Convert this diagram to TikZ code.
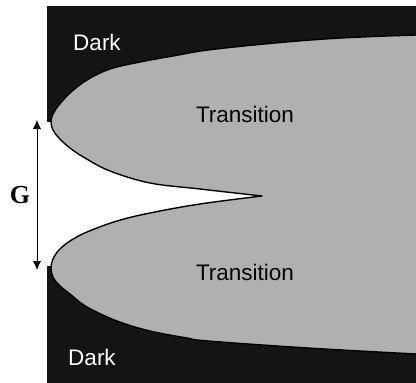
\documentclass[tikz,border=0pt]{standalone}
\usepackage{fontspec}
\setmainfont{Liberation Sans}
\newfontfamily\gfont{Liberation Serif}
\usetikzlibrary{arrows.meta}
\definecolor{darkreg}{HTML}{141414}
\definecolor{transreg}{HTML}{B0B0B0}
\tikzset{
  darkfill/.style={fill=darkreg},
  transfill/.style={fill=transreg, draw=black, line width=1.4pt, line join=round},
  darklabel/.style={text=white, font=\fontsize{22.5}{27}\selectfont, inner sep=0pt},
  translabel/.style={text=black, font=\fontsize{22.5}{27}\selectfont, inner sep=0pt},
  gaparrow/.style={{Latex[length=9pt,width=8pt]}-{Latex[length=9pt,width=8pt]}, line width=0.7pt},
}
\begin{document}
\begin{tikzpicture}[x=1pt,y=-1pt]
\useasboundingbox (0,0) rectangle (416,383);
\fill[white] (0,0) rectangle (416,383);
% dark regions
\fill[darkfill] (47,6) rectangle (416,122);
\fill[darkfill] (47,266) rectangle (416,383);
% transition region
\path[transfill]
  plot[smooth, tension=0.6] coordinates {(416,35) (341,38) (275,43) (208,50) (173,56) (140,62) (110,69) (87,80) (70,93) (59,105) (53,114) (51,122) (53,130) (59,138) (70,148) (85,158) (110,171) (150,183) (200,189) (262,196)}
  -- plot[smooth, tension=0.6] coordinates {(262,196) (200,204) (150,213) (117,221) (87,232) (70,241) (59,250) (53,259) (51,268) (53,277) (59,285) (70,294) (87,307) (117,321) (150,331) (187,338) (208,341) (308,348) (416,354)}
  -- (418,354) -- (418,35) -- cycle;
% labels
\node[darklabel] (darktop) at (97,42) {Dark};
\node[darklabel] (darkbot) at (92,357) {Dark};
\node[translabel] (transtop) at (245,114) {Transition};
\node[translabel] (transbot) at (245,272) {Transition};
% gap arrow
\coordinate (gtop) at (37,120);
\coordinate (gbot) at (37,270);
\draw[gaparrow] (gtop) -- (gbot);
\node[inner sep=0pt, font=\gfont\bfseries\fontsize{26}{30}\selectfont] (glabel) at (20,195) {G};
\end{tikzpicture}
\end{document}
